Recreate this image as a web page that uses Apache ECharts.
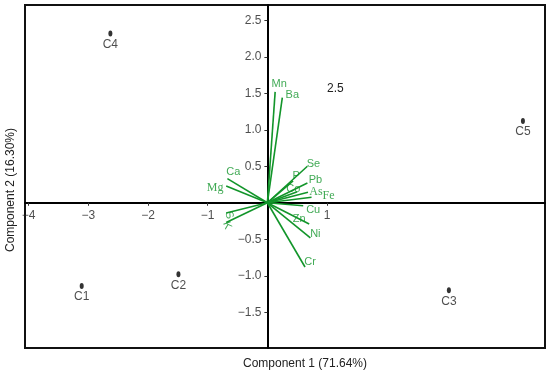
<!DOCTYPE html>
<html><head><meta charset="utf-8">
<script src="https://cdn.jsdelivr.net/npm/echarts@6/dist/echarts.min.js"></script>
<style>html,body{margin:0;padding:0;background:#fff}#c{width:550px;height:376px}</style>
</head><body><div id="c"></div>
<script>
var sampleNames = ['C1','C2','C3','C4','C5'];
var sampleX = [-3.11, -1.49, 3.04, -2.63, 4.28];
var sampleY = [-1.14, -0.98, -1.20, 2.32, 1.12];

var varNames = ['Mn','Ba','Se','P','Pb','Co','As','Fe','Cu','Zn','Ni','Cr','Ca','Mg','S','K'];
var varX = [0.13, 0.25, 0.67, 0.43, 0.67, 0.50, 0.68, 0.74, 0.60, 0.70, 0.72, 0.63, -0.67, -0.69, -0.69, -0.69];
var varY = [1.52, 1.44, 0.50, 0.30, 0.27, 0.15, 0.145, 0.075, -0.04, -0.29, -0.48, -0.88, 0.33, 0.23, -0.14, -0.27];

var xTicks = [-4, -3, -2, -1, 1];
var yTicks = [-1.5, -1.0, -0.5, 0.5, 1.0, 1.5, 2.0, 2.5];

// label styling (pixel offsets, fonts)
var labelOffset = {Mn:[4,-8],Ba:[10,-3],Se:[6,-2],P:[3,-5],Pb:[8,-3],Co:[-4,-3],As:[8,0],Fe:[17,-1],
  Cu:[10,4],Zn:[-10,-5],Ni:[5,-4],Cr:[5,-5],Ca:[6,-7],Mg:[-11,2],S:[3,-2],K:[3,0]};
var serifSet = {Mg:1, As:1, Fe:1};
var rotSet = {S:-70, K:-70};

var green = '#12952a';
var chart = echarts.init(document.getElementById('c'));
var lineData = varNames.map(function(n,i){return {coords:[[0,0],[varX[i],varY[i]]]};});
var labelData = varNames.map(function(n,i){
  return {value:[varX[i],varY[i]], name:n, label:{
    offset: labelOffset[n], rotate: rotSet[n]||0,
    fontFamily: serifSet[n] ? 'Liberation Serif' : 'Liberation Sans Narrow, Liberation Sans',
    fontSize: serifSet[n] ? 12 : 11
  }};
});
var fmtMinus = function(s){ return s.replace('-', '\u2212'); };
var tickFont = {color:'#222', fontSize:12, fontFamily:'Liberation Sans'};

chart.setOption({
  animation:false,
  grid:{left:25, right:5, top:5, bottom:28, show:true, borderColor:'#111', borderWidth:2, containLabel:false, outerBoundsMode:'none'},
  xAxis:{type:'value', min:-4.06, max:4.65, splitLine:{show:false},
    axisLine:{onZero:true, lineStyle:{color:'#000', width:2}},
    axisTick:{customValues:xTicks, length:3, lineStyle:{color:'#333'}},
    axisLabel:{show:false}},
  yAxis:{type:'value', min:-1.99, max:2.71, splitLine:{show:false},
    axisLine:{onZero:true, lineStyle:{color:'#000', width:2}},
    axisTick:{customValues:yTicks, length:3, lineStyle:{color:'#333'}},
    axisLabel:{show:false}},
  series:[
    {type:'lines', coordinateSystem:'cartesian2d', data:lineData, silent:true,
      lineStyle:{color:green, width:1.6, opacity:1}, symbol:'none', z:3},
    {type:'scatter', data:labelData, symbolSize:0, silent:true, z:4,
      label:{show:true, position:'inside', color:green, formatter:'{b}'}},
    {type:'scatter', data:sampleNames.map(function(n,i){return {value:[sampleX[i],sampleY[i]], name:n};}),
      symbol:'circle', symbolSize:[4,6], itemStyle:{color:'#000'}, z:5,
      label:{show:true, position:'bottom', distance:2, formatter:'{b}', color:'#222', fontSize:12, fontFamily:'Liberation Sans'}},
    {type:'scatter', silent:true, symbolSize:0, z:2,
      data:xTicks.map(function(t){return {value:[t,0], name:fmtMinus(String(t))};}),
      label:Object.assign({show:true, position:'bottom', distance:7, formatter:'{b}'}, tickFont)},
    {type:'scatter', silent:true, symbolSize:0, z:2,
      data:yTicks.map(function(t){return {value:[0,t], name:fmtMinus(t.toFixed(1))};}),
      label:Object.assign({show:true, position:'left', distance:6, formatter:'{b}'}, tickFont)}
  ],
  graphic:[
    {type:'text', left:327, top:83, style:{text:'2.5', fontSize:12, fontFamily:'Liberation Sans', fill:'#222'}},
    {type:'text', x:305, y:364, style:{text:'Component 1 (71.64%)', fontSize:12, fontFamily:'Liberation Sans', fill:'#222', align:'center', verticalAlign:'middle'}},
    {type:'text', x:11, y:190, rotation:Math.PI/2, style:{text:'Component 2 (16.30%)', fontSize:12, fontFamily:'Liberation Sans', fill:'#222', align:'center', verticalAlign:'middle'}}
  ]
});
</script></body></html>
